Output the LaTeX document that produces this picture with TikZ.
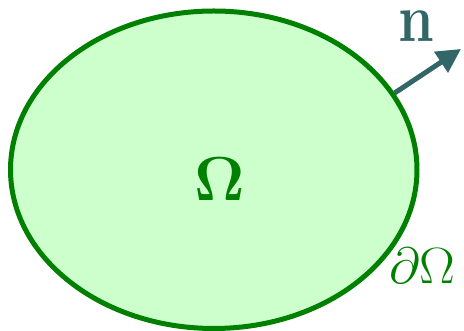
\documentclass[tikz,border=0pt]{standalone}
\usepackage{amsmath,amssymb,bm}
\usepackage{graphicx}
\usepackage{xcolor}
\usepackage{tikz}
\usetikzlibrary{arrows.meta,shapes.geometric}
\definecolor{domFill}{HTML}{CCFFCC}
\definecolor{domLine}{HTML}{008000}
\definecolor{normalC}{HTML}{336666}

\begin{document}
\begin{tikzpicture}[x=1pt,y=1pt,
    region/.style={ellipse,draw=domLine,fill=domFill,line width=5pt,
      minimum width=406.5pt,minimum height=317.5pt,inner sep=0pt},
    biglabel/.style={inner sep=0pt,anchor=base,font=\Huge}]
  \useasboundingbox (0,0) rectangle (464,331);
  \node[region] (dom) at (213.75,161.25) {};
  \node[biglabel,text=domLine] (omega) at (220,130) {\scalebox{2.5}{$\bm{\Omega}$}};
  \node[biglabel,text=domLine] (bnd) at (422.5,47) {\scalebox{2.15}[2.05]{$\partial\Omega$}};
  % outward normal
  \coordinate (tip) at (461,282);
  \draw[normalC,line width=5pt,-{Triangle[length=24pt,width=24pt]}] (dom.23) -- (tip);
  \node[biglabel,text=normalC] (nvec) at (416,289) {\scalebox{2.3}[2.75]{$\mathbf{n}$}};
\end{tikzpicture}
\end{document}
